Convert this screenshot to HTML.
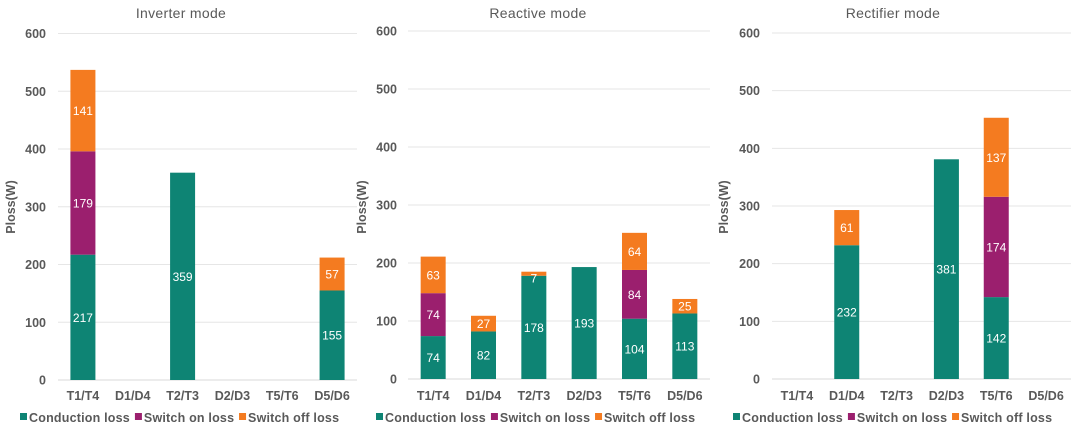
<!DOCTYPE html>
<html><head><meta charset="utf-8"><style>
body{margin:0;background:#fff;width:1080px;height:432px;overflow:hidden}
svg{font-family:"Liberation Sans",sans-serif}
</style></head><body>
<svg id="c" width="1080" height="432"></svg>
<script>
const categories=["T1/T4","D1/D4","T2/T3","D2/D3","T5/T6","D5/D6"];
const seriesNames=["Conduction loss","Switch on loss","Switch off loss"];
const colors=["#0e8474","#9b1f6e","#f47b20"];
const yTicks=[0,100,200,300,400,500,600];
const titles=["Inverter mode","Reactive mode","Rectifier mode"];
const inverterCond=[217,0,359,0,0,155];
const inverterOn=[179,0,0,0,0,0];
const inverterOff=[141,0,0,0,0,57];
const reactiveCond=[74,82,178,193,104,113];
const reactiveOn=[74,0,0,0,84,0];
const reactiveOff=[63,27,7,0,64,25];
const rectifierCond=[0,232,0,381,142,0];
const rectifierOn=[0,0,0,0,174,0];
const rectifierOff=[0,61,0,0,137,0];
const panelData=[[inverterCond,inverterOn,inverterOff],[reactiveCond,reactiveOn,reactiveOff],[rectifierCond,rectifierOn,rectifierOff]];
const panels=[{x0:58,x1:357,y0:380,y600:33.5,lab:46,ploss:15,title:181,leg:20},
{x0:408,x1:710,y0:379,y600:31,lab:397,ploss:366,title:538,leg:376},
{x0:772,x1:1071,y0:379,y600:33,lab:760,ploss:728,title:893,leg:733}];
const NS="http://www.w3.org/2000/svg";
const svg=document.getElementById('c');
function mk(t,a,txt,parent){const e=document.createElementNS(NS,t);for(const k in a)e.setAttribute(k,a[k]);if(txt!==undefined)e.textContent=txt;(parent||svg).appendChild(e);return e;}
panels.forEach((p,pi)=>{
  const g=mk('g',{});
  
  
  const y=v=>p.y0-(p.y0-p.y600)*v/600;
  const bw=(p.x1-p.x0)/categories.length;
  const xc=i=>p.x0+bw*(i+0.5);
  const t=mk('text',{x:p.title,y:18,'text-anchor':'middle','font-size':14,fill:'#595959','letter-spacing':'0.3'},titles[pi],g);
  
  
  yTicks.forEach(v=>{
    const l=mk('line',{x1:p.x0,x2:p.x1,y1:y(v),y2:y(v),stroke:v?'#e6e6e6':'#d9d9d9','stroke-width':1},undefined,g);
    
    
    const tl=mk('text',{x:p.lab,y:y(v)+4.5,'text-anchor':'end','font-size':12.5,'font-weight':'bold',fill:'#595959'},v,g);
    
    
  });
  const yl=mk('text',{x:p.ploss,y:207,'text-anchor':'middle','font-size':12.5,'font-weight':'bold',fill:'#595959',transform:`rotate(-90 ${p.ploss} 207)`},'Ploss(W)',g);
  
  
  categories.forEach((c,i)=>{
    const xl=mk('text',{x:xc(i),y:400,'text-anchor':'middle','font-size':12.5,'font-weight':'bold',fill:'#595959'},c,g);
    
    
    let base=0;
    panelData[pi].forEach((s,si)=>{
      const v=s[i]; if(!v) return;
      const r=mk('rect',{x:xc(i)-12.5,y:y(base+v),width:25,height:y(base)-y(base+v),fill:colors[si]},undefined,g);
      
      
      const midY=(y(base)+y(base+v))/2;
      const vl=mk('text',{x:xc(i),y:Math.max(midY+4.5,y(base+v)+11),'text-anchor':'middle','font-size':12,fill:'#fff'},v,g);
      
      
      base+=v;
    });
  });
  let lx=p.leg;
  seriesNames.forEach((n,si)=>{
    const sw=mk('rect',{x:lx,y:413,width:7,height:7,fill:colors[si]},undefined,g);
    
    
    const lt=mk('text',{x:lx+9,y:422,'font-size':12.5,'font-weight':'bold',fill:'#595959','letter-spacing':'0.2'},n,g);
    
    
    lx+=lt.getComputedTextLength()+n.length*0.2+11;
  });
});
</script>
</body></html>
